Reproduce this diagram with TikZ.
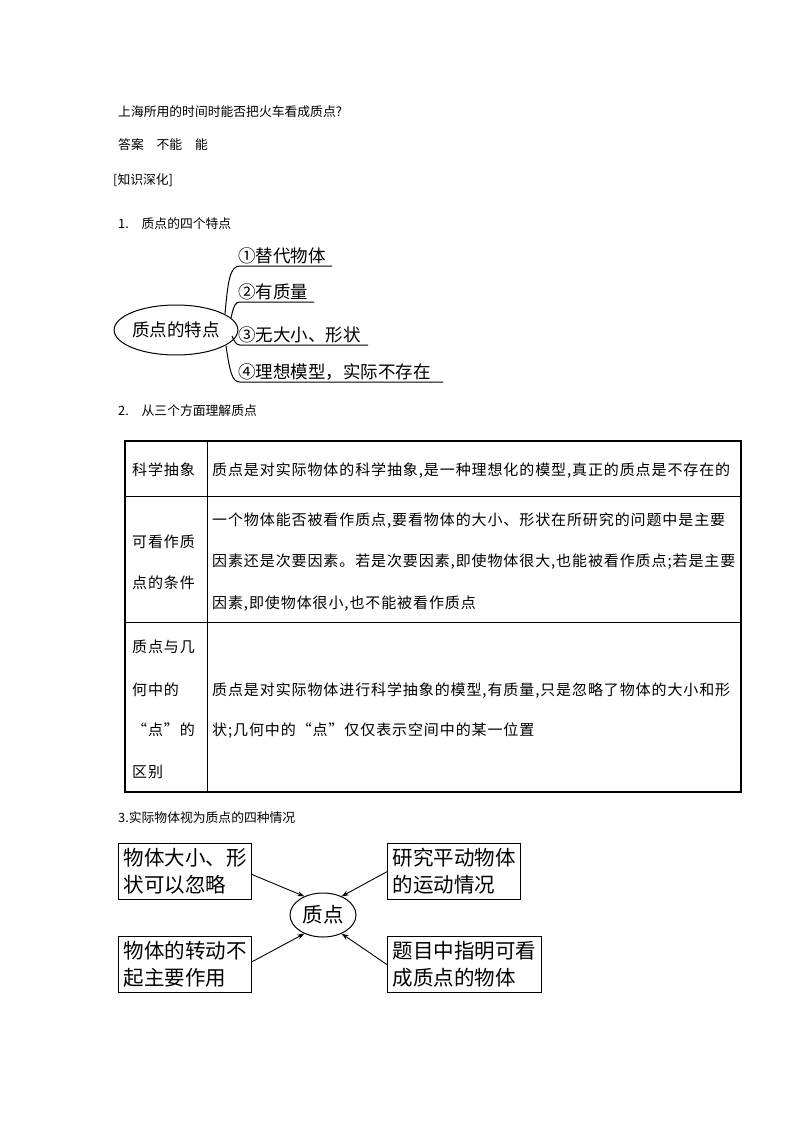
\documentclass[tikz,border=0pt]{standalone}
\usepackage{fontspec}
\setmainfont{Noto Sans CJK SC}
\newfontfamily\cellfont{Noto Sans CJK SC}[LetterSpace=6]
\usetikzlibrary{shapes.geometric,arrows.meta}
\tikzset{
 txt/.style={anchor=base west,inner sep=0pt,font=\fontsize{12.8}{14}\selectfont},
 cell/.style={anchor=base west,inner sep=0pt,font=\cellfont\fontsize{15}{17}\selectfont},
 mm/.style={anchor=base west,inner sep=0pt,font=\fontsize{17.5}{20}\selectfont},
 bx/.style={anchor=north west,draw,line width=1.2pt,inner xsep=5pt,inner ysep=5pt,align=left,font=\fontsize{20.5}{27}\selectfont},
 arr/.style={-{Stealth[length=7pt,width=5pt]},line width=0.9pt}
}
\begin{document}
\begin{tikzpicture}[x=1pt,y=-1pt]
\useasboundingbox[fill=white] (0,0) rectangle (794,1123);
% top text
\node[txt] (t1) at (118,117) {上海所用的时间时能否把火车看成质点?};
\node[txt] (t2) at (118,150) {答案\quad 不能\quad 能};
\node[txt] (t3) at (113,185) {[知识深化]};
\node[txt] (t4) at (118,229) {1.\quad 质点的四个特点};
% mind map
\node[draw,ellipse,line width=1pt,minimum width=117pt,minimum height=50pt,inner sep=0pt,font=\fontsize{17.5}{20}\selectfont] (ell) at (176,330) {质点的特点};
\draw[line width=1pt] (225,314) .. controls (228,280) and (230,266) .. (240,266) -- (332,266);
\draw[line width=1pt] (231,318) .. controls (234,304) and (236,302) .. (240,302) -- (314,302);
\draw[line width=1pt] (232,336) .. controls (235,343) and (237,345) .. (240,345) -- (368,345);
\draw[line width=1pt] (226,346) .. controls (230,372) and (232,382) .. (240,382) -- (443,382);
\node[mm] (m1) at (238,262) {①替代物体};
\node[mm] (m2) at (238,298) {②有质量};
\node[mm] (m3) at (238,341) {③无大小、形状};
\node[mm] (m4) at (238,378) {④理想模型，实际不存在};
\node[txt] (t5) at (118,415) {2.\quad 从三个方面理解质点};
% table
\draw[line width=2.2pt] (125,441) rectangle (741,792);
\draw[line width=1pt] (207,441) -- (207,792);
\draw[line width=1pt] (125,496) -- (741,496);
\draw[line width=1pt] (125,622) -- (741,622);
\node[cell] (a1) at (132,475) {科学抽象};
\node[cell] (b1) at (212,475) {质点是对实际物体的科学抽象,是一种理想化的模型,真正的质点是不存在的};
\node[cell] (a2) at (132,547) {可看作质};
\node[cell] (a3) at (132,588) {点的条件};
\node[cell] (b2) at (212,525) {一个物体能否被看作质点,要看物体的大小、形状在所研究的问题中是主要};
\node[cell] (b3) at (212,566) {因素还是次要因素。若是次要因素,即使物体很大,也能被看作质点;若是主要};
\node[cell] (b4) at (212,608) {因素,即使物体很小,也不能被看作质点};
\node[cell] (a4) at (132,652) {质点与几};
\node[cell] (a5) at (132,695) {何中的};
\node[cell] (a6) at (132,735) {“点”的};
\node[cell] (a7) at (132,777) {区别};
\node[cell] (b5) at (212,695) {质点是对实际物体进行科学抽象的模型,有质量,只是忽略了物体的大小和形};
\node[cell] (b6) at (212,735) {状;几何中的“点”仅仅表示空间中的某一位置};
\node[txt] (t6) at (118,822) {3.实际物体视为质点的四种情况};
% bottom diagram
\node[bx] (tl) at (118,843) {物体大小、形\\状可以忽略};
\node[bx] (tr) at (387,843) {研究平动物体\\的运动情况};
\node[bx] (bl) at (118,936) {物体的转动不\\起主要作用};
\node[bx] (br) at (387,936) {题目中指明可看\\成质点的物体};
\node[draw,ellipse,line width=1pt,minimum width=66pt,minimum height=44pt,inner sep=0pt,font=\fontsize{20.5}{24}\selectfont] (q) at (323,915) {质点};
\draw[arr] (tl.east) ++(0,3) coordinate (tlx) -- (q.135);
\draw[arr] (tr.west) -- (q.45);
\draw[arr] (bl.east) ++(0,-3) coordinate (blx) -- (q.225);
\draw[arr] (br.west) -- (q.315);
\end{tikzpicture}
\end{document}
